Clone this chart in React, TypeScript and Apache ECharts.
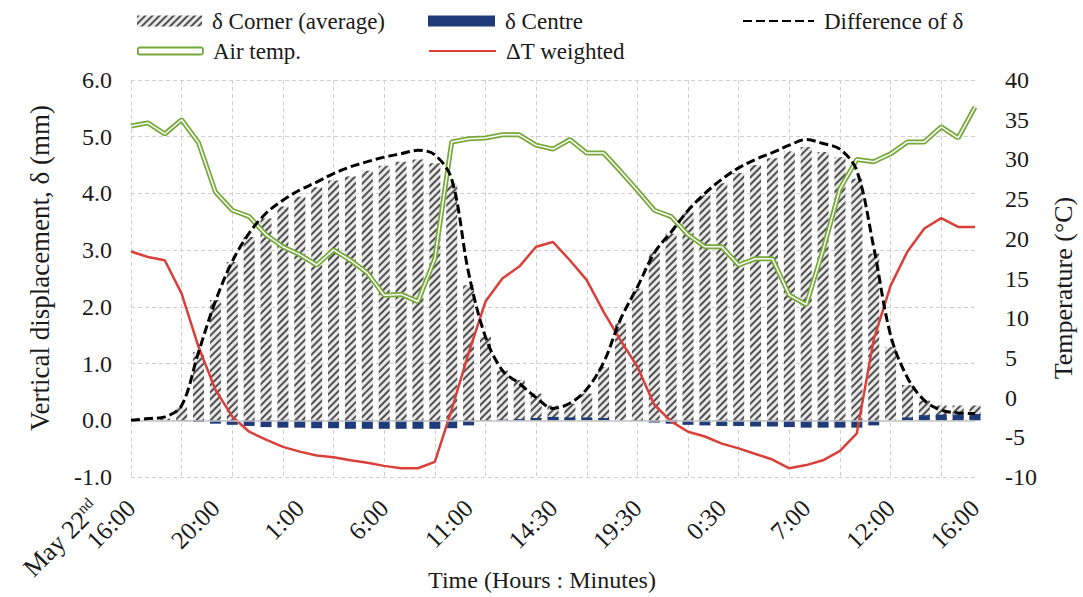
import React, { useEffect, useRef } from 'react';
import * as echarts from 'echarts';

const tickLabels = ['16:00', '20:00', '1:00', '6:00', '11:00', '14:30', '19:30', '0:30', '7:00', '12:00', '16:00'];
const categories = Array.from({ length: 51 }, (_, i) =>
  i % 5 === 0 ? tickLabels[i / 5] : `${tickLabels[Math.floor(i / 5)]}+${i % 5}`
);

const cornerAvg = [
  0.0, 0.02, 0.03, 0.23, 1.2, 2.12, 2.79, 3.23, 3.56, 3.77,
  3.94, 4.11, 4.23, 4.3, 4.4, 4.49, 4.56, 4.6, 4.53, 4.17,
  2.38, 1.47, 0.88, 0.71, 0.47, 0.26, 0.29, 0.47, 0.94, 1.71,
  2.32, 2.97, 3.29, 3.67, 3.97, 4.18, 4.36, 4.5, 4.62, 4.74,
  4.82, 4.73, 4.64, 4.26, 2.94, 1.29, 0.62, 0.35, 0.26, 0.26,
  0.26,
];
const centre = [
  0, 0, 0, -0.01, -0.03, -0.06, -0.08, -0.1, -0.12, -0.13,
  -0.13, -0.14, -0.14, -0.15, -0.15, -0.15, -0.15, -0.15, -0.15, -0.14,
  -0.09, -0.01, 0.01, 0.02, 0.04, 0.06, 0.05, 0.05, 0.04, 0.0,
  -0.01, -0.04, -0.06, -0.08, -0.09, -0.1, -0.1, -0.11, -0.11, -0.12,
  -0.13, -0.13, -0.13, -0.13, -0.09, 0, 0.05, 0.09, 0.1, 0.1,
  0.11,
];
const difference = [
  0.0, 0.03, 0.06, 0.26, 1.2, 2.1, 2.8, 3.3, 3.65, 3.88,
  4.06, 4.2, 4.35, 4.47, 4.56, 4.64, 4.7, 4.76, 4.68, 4.25,
  2.6, 1.47, 0.88, 0.65, 0.4, 0.21, 0.3, 0.55, 1.02, 1.78,
  2.35, 2.95, 3.32, 3.7, 4.0, 4.25, 4.45, 4.6, 4.72, 4.85,
  4.95, 4.88, 4.78, 4.4, 3.05, 1.5, 0.75, 0.35, 0.18, 0.13,
  0.12,
];
const airTemp = [
  34.2, 34.6, 33.2, 35.0, 32.1, 25.9, 23.6, 22.8, 20.5, 19.0,
  18.0, 16.7, 18.6, 17.3, 15.7, 12.9, 13.0, 12.1, 17.5, 32.2,
  32.6, 32.7, 33.1, 33.1, 31.8, 31.3, 32.5, 30.8, 30.8, 28.5,
  26.1, 23.6, 22.8, 20.5, 19.0, 19.0, 16.7, 17.5, 17.5, 12.9,
  11.7, 18.6, 26.3, 30.0, 29.7, 30.7, 32.2, 32.2, 34.1, 32.7,
  36.6,
];
const deltaTWeighted = [
  18.4, 17.7, 17.3, 13.1, 6.4, 1.0, -2.4, -4.3, -5.3, -6.2,
  -6.8, -7.3, -7.5, -7.9, -8.2, -8.6, -8.9, -8.9, -8.1, -1.5,
  5.6, 12.1, 15.0, 16.5, 19.0, 19.6, 17.3, 14.8, 10.8, 7.2,
  3.9, -0.9, -3.0, -4.3, -4.9, -5.8, -6.4, -7.1, -7.8, -8.9,
  -8.5, -7.9, -6.7, -4.5, 7.3, 14.1, 18.4, 21.3, 22.6, 21.5,
  21.5,
];

const FONT = 'Liberation Serif';
const TXT = '#1a1a1a';
const GREEN = '#77a83a';
const RED = '#d9403a';
const NAVY = '#1f3c78';
const NO_SYMBOL = { color: 'rgba(0,0,0,0)', borderWidth: 0, opacity: 0 };

export default function App() {
  const ref = useRef<HTMLDivElement>(null);
  useEffect(() => {
    if (!ref.current) return;
    const chart = echarts.init(ref.current, null, { renderer: 'svg' });
    const legendBase = {
      orient: 'horizontal' as const,
      padding: 0,
      itemGap: 0,
      textStyle: { fontFamily: FONT, fontSize: 23, color: TXT, lineHeight: 24, padding: [0, 0, 0, 5] },
    };
    chart.setOption({
      animation: false,
      backgroundColor: '#fff',
      textStyle: { fontFamily: FONT },
      legend: [
        { ...legendBase, left: 137, top: 9, itemWidth: 65, itemHeight: 11, data: [{ name: 'δ Corner (average)', icon: 'rect' }] },
        { ...legendBase, left: 428, top: 9, itemWidth: 67, itemHeight: 11, data: [{ name: 'δ Centre', icon: 'rect' }] },
        { ...legendBase, left: 742, top: 9, itemWidth: 71, itemHeight: 11, data: [{ name: 'Difference of δ', itemStyle: NO_SYMBOL }] },
        {
          ...legendBase, left: 137, top: 39, itemWidth: 65, itemHeight: 7,
          data: [{ name: 'Air temp.', icon: 'roundRect', itemStyle: { color: '#fff', borderColor: GREEN, borderWidth: 1.8 } }],
        },
        { ...legendBase, left: 428, top: 39, itemWidth: 67, itemHeight: 11, data: [{ name: 'ΔT weighted', itemStyle: NO_SYMBOL }] },
      ],
      grid: { left: 131, right: 108, top: 80, bottom: 120 },
      xAxis: {
        type: 'category',
        data: categories,
        boundaryGap: false,
        axisLine: { show: false },
        axisTick: { show: false },
        axisLabel: { interval: 4, rotate: 45, fontSize: 25, fontFamily: FONT, color: TXT, margin: 27 },
        splitLine: { show: true, interval: 2, lineStyle: { type: [4, 3], color: '#d0d0d0', width: 1 } },
      },
      yAxis: [
        {
          type: 'value',
          min: -1,
          max: 6,
          interval: 1,
          axisLine: { show: false },
          axisTick: { show: false },
          axisLabel: { formatter: (v: number) => v.toFixed(1), fontSize: 24, fontFamily: FONT, color: TXT, margin: 19 },
          splitLine: { show: true, lineStyle: { type: [4, 3], color: '#d0d0d0', width: 1 } },
        },
        {
          type: 'value',
          position: 'right',
          min: -10,
          max: 40,
          interval: 5,
          axisLine: { show: false },
          axisTick: { show: false },
          axisLabel: { fontSize: 24, fontFamily: FONT, color: TXT, margin: 30 },
          splitLine: { show: false },
        },
      ],
      graphic: [
        {
          type: 'text',
          x: 95,
          y: 505,
          rotation: Math.PI / 4,
          style: {
            text: '{a|May 22}{b|nd}',
            align: 'right',
            verticalAlign: 'middle',
            fill: TXT,
            rich: {
              a: { fontSize: 26, fontFamily: FONT, fill: TXT, lineHeight: 28 },
              b: { fontSize: 15, fontFamily: FONT, fill: TXT, verticalAlign: 'top', lineHeight: 28 },
            },
          },
        },
        {
          type: 'text',
          x: 40,
          y: 268,
          rotation: Math.PI / 2,
          style: {
            text: 'Vertical displacement, δ (mm)',
            align: 'center',
            verticalAlign: 'middle',
            fontSize: 27,
            fontFamily: FONT,
            fill: TXT,
          },
        },
        {
          type: 'text',
          x: 1063,
          y: 288,
          rotation: Math.PI / 2,
          style: {
            text: 'Temperature (°C)',
            align: 'center',
            verticalAlign: 'middle',
            fontSize: 26,
            fontFamily: FONT,
            fill: TXT,
          },
        },
        {
          type: 'text',
          x: 542,
          y: 580,
          style: {
            text: 'Time (Hours : Minutes)',
            align: 'center',
            verticalAlign: 'middle',
            fontSize: 24,
            fontFamily: FONT,
            fill: TXT,
          },
        },
      ],
      series: [
        {
          name: 'δ Corner (average)',
          type: 'bar',
          yAxisIndex: 0,
          data: cornerAvg,
          barWidth: 11,
          barGap: '-100%',
          itemStyle: {
            color: '#e8e8e8',
            decal: {
              symbol: 'rect',
              symbolSize: 1,
              dashArrayX: [1, 0],
              dashArrayY: [1.2, 2.4],
              rotation: -Math.PI / 4,
              color: '#505050',
            },
          },
          markLine: {
            silent: true,
            symbol: 'none',
            label: { show: false },
            lineStyle: { color: '#c4c4c4', type: 'solid', width: 1.5 },
            data: [{ yAxis: 0 }],
          },
        },
        {
          name: 'δ Centre',
          type: 'bar',
          yAxisIndex: 0,
          data: centre,
          barWidth: 11,
          barGap: '-100%',
          itemStyle: { color: NAVY },
        },
        {
          name: 'Difference of δ',
          type: 'line',
          yAxisIndex: 0,
          data: difference,
          smooth: 0.35,
          symbol: 'none',
          lineStyle: { color: '#000', width: 3, type: [9, 4] },
          itemStyle: { color: '#000' },
          z: 5,
        },
        {
          name: 'Air temp.',
          type: 'line',
          yAxisIndex: 1,
          data: airTemp,
          symbol: 'none',
          lineStyle: { color: GREEN, width: 5 },
          itemStyle: { color: GREEN },
          z: 4,
        },
        {
          name: 'Air temp. inner',
          type: 'line',
          yAxisIndex: 1,
          data: airTemp,
          symbol: 'none',
          lineStyle: { color: '#ffffff', width: 1.5 },
          itemStyle: { color: '#ffffff' },
          z: 4,
          silent: true,
        },
        {
          name: 'ΔT weighted',
          type: 'line',
          yAxisIndex: 1,
          data: deltaTWeighted,
          symbol: 'none',
          lineStyle: { color: RED, width: 2.5 },
          itemStyle: { color: RED },
          z: 4,
        },
      ],
    });
    return () => chart.dispose();
  }, []);
  return <div ref={ref} style={{ position: 'fixed', left: 0, top: 0, width: 1083, height: 597 }} />;
}
